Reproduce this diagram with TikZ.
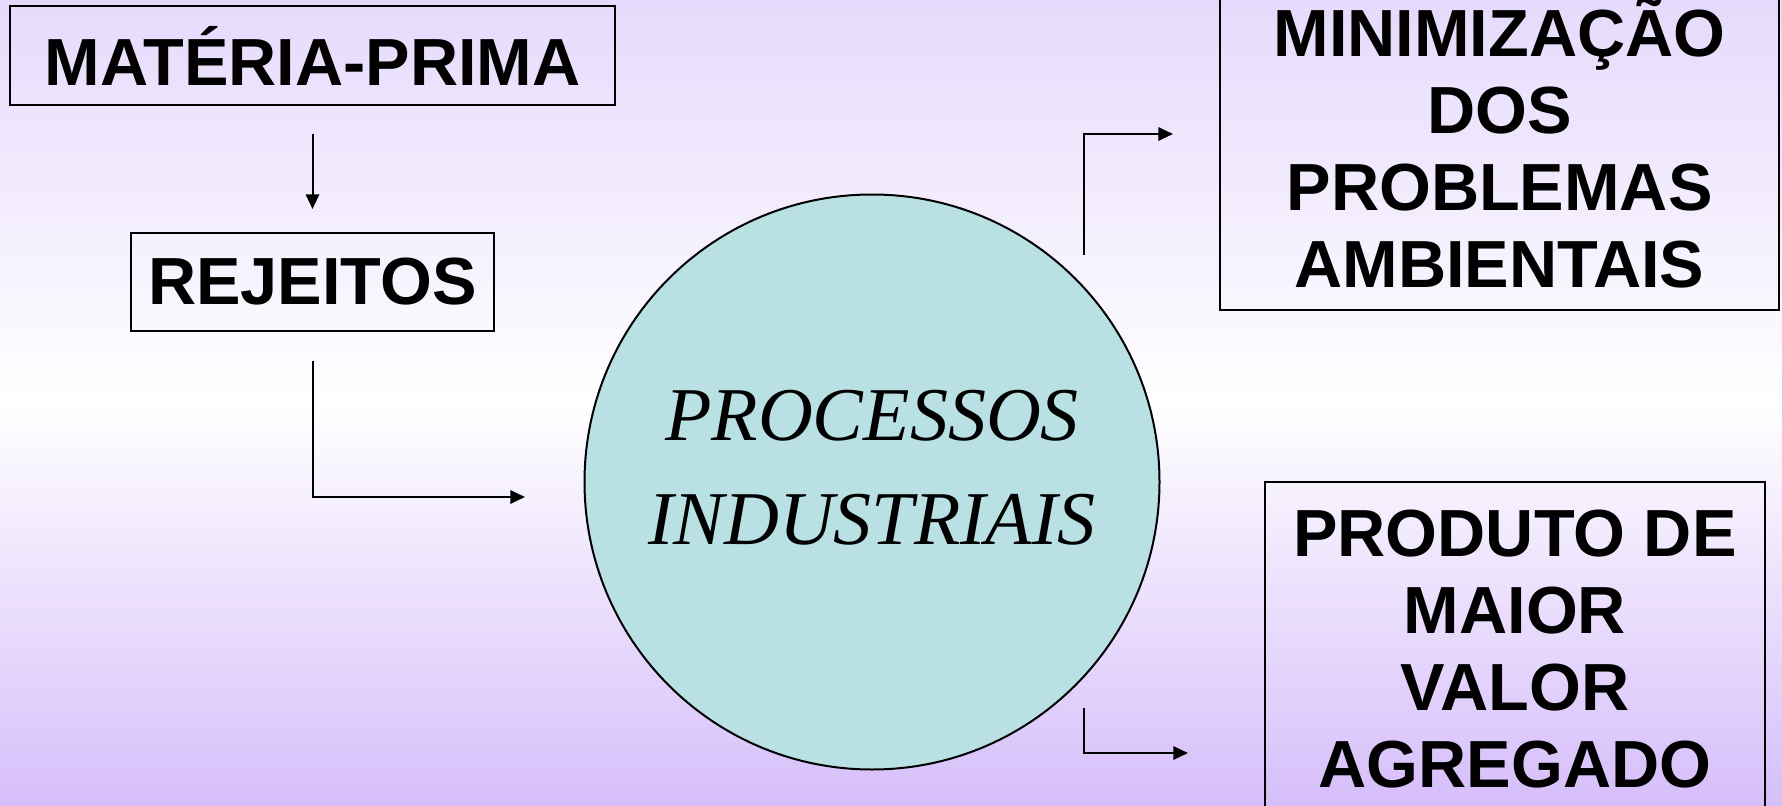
\documentclass[tikz,border=0pt]{standalone}
\usepackage{fontspec}
\setmainfont{Liberation Sans}
\newfontfamily\procfont{Liberation Serif}
\usetikzlibrary{arrows.meta, positioning, calc}
\definecolor{Lilac_Top}{RGB}{230,218,252}
\definecolor{Lilac_Bottom}{RGB}{214,190,250}
\definecolor{Proc_Teal}{RGB}{185,224,227}

\begin{document}
\begin{tikzpicture}[
    x=0.75pt, y=-0.75pt,
    >={Triangle[length=11pt,width=10pt]},
    box/.style={
        draw=black,
        line width=1.5pt,
        inner sep=0pt,
        align=center,
        font=\fontsize{50}{57.75}\selectfont\bfseries
    },
    proc/.style={
        circle,
        draw=black,
        line width=1.5pt,
        fill=Proc_Teal,
        minimum size=431.25pt
    },
    proclabel/.style={
        align=center,
        inner sep=0pt,
        font=\fontsize{57}{78}\selectfont\procfont\itshape
    },
    arr/.style={
        draw=black,
        line width=1.5pt,
        ->
    }
]

% background
\useasboundingbox (0,0) rectangle (1782,806);
\clip (0,0) rectangle (1782,806);
\shade[top color=Lilac_Top, bottom color=Lilac_Bottom, middle color=white] (0,0) rectangle (1782,806);

\node[box, minimum width=453.75pt, minimum height=74.25pt] (mp) at (312.5,55.5) {MATÉRIA-PRIMA};
\node[box, minimum width=272.25pt, minimum height=73.5pt] (rej) at (312.5,282) {REJEITOS};

\node[proc] (proc) at (872,482) {};
\node[proclabel] (procLbl) at ([yshift=11pt]proc.center) {PROCESSOS\\INDUSTRIAIS};

\node[box, minimum width=419.25pt, minimum height=250.5pt] (minim) at (1499.5,143) {MINIMIZAÇÃO\\DOS\\PROBLEMAS\\AMBIENTAIS};
\node[box, minimum width=375pt, minimum height=250.5pt] (prod) at (1515,649) {PRODUTO DE\\MAIOR\\VALOR\\AGREGADO};

% free ends of the connectors
\coordinate (inA) at (525,497);
\coordinate (upA) at (1084,255);
\coordinate (downA) at (1084,708);

\draw[arr, shorten <=21pt, shorten >=17.25pt] (mp) -- (rej);
\draw[arr, shorten <=21.75pt] (rej.south) |- (inA);
\draw[arr, shorten >=34.5pt] (upA) |- (minim.west |- 0,134);
\draw[arr, shorten >=57pt] (downA) |- (prod.west |- 0,753);

\end{tikzpicture}
\end{document}
